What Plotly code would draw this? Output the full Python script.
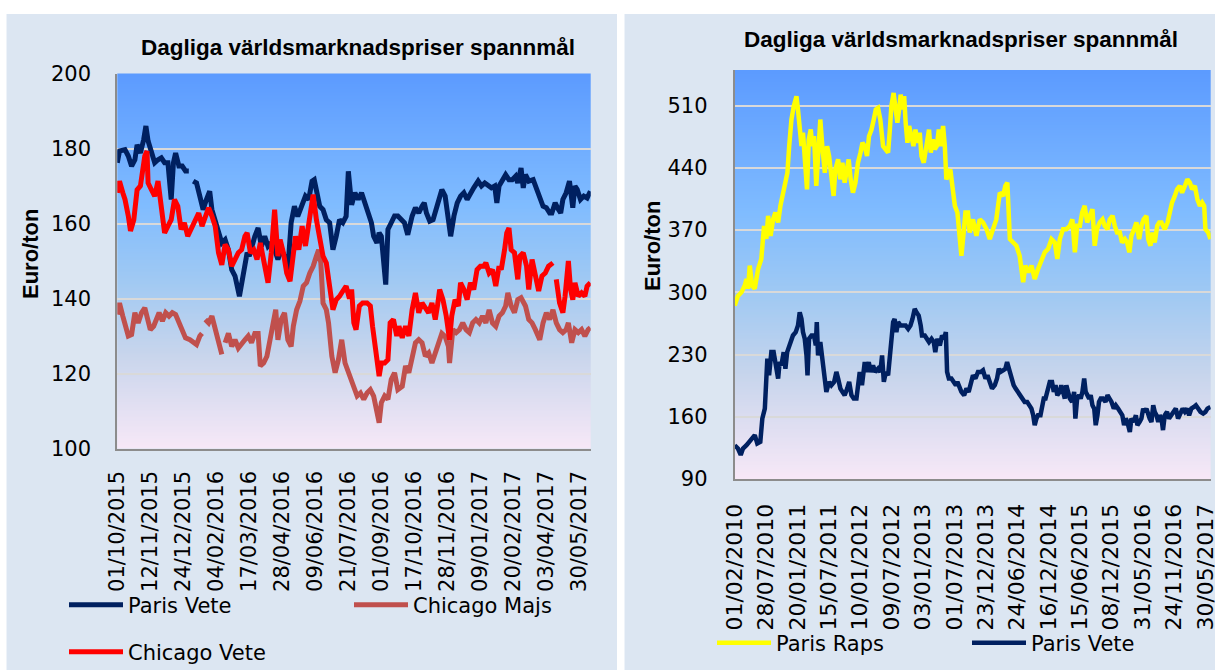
import base64, struct, zlib
import plotly.graph_objects as go

W, H = 1215, 670

# ---------------- data ----------------
left_tick_pos = [0, 30, 60, 90, 120, 150, 180, 210, 240, 270, 300, 330, 360, 390, 420]
left_tick_text = ["01/10/2015", "12/11/2015", "24/12/2015", "04/02/2016", "17/03/2016",
                  "28/04/2016", "09/06/2016", "21/07/2016", "01/09/2016", "17/10/2016",
                  "28/11/2016", "09/01/2017", "20/02/2017", "03/04/2017", "30/05/2017"]
right_tick_pos = [0, 125, 250, 375, 500, 625, 750, 875, 1000, 1125, 1250, 1375, 1500, 1625, 1750, 1875]
right_tick_text = ["01/02/2010", "28/07/2010", "20/01/2011", "15/07/2011", "10/01/2012",
                   "09/07/2012", "03/01/2013", "01/07/2013", "23/12/2013", "24/06/2014",
                   "16/12/2014", "15/06/2015", "08/12/2015", "31/05/2016", "24/11/2016",
                   "30/05/2017"]
left_y_ticks = [100, 120, 140, 160, 180, 200]
right_y_ticks = [90, 160, 230, 300, 370, 440, 510]

# Left chart: trading-day index / Euro per ton
paris_vete_l_x = [0, 2, 7, 10, 13, 16, 18, 21, 24, 26, 28, 31, 34, 37, 40, 43, 46, 49, 51, 53, 56, 59, 62, 65, 66,
                  69, 72, 75, 78, 81, 84, 86, 89, 92, 95, 98, 101, 104, 107, 111, 113, 115, 118, 120, 123, 125,
                  128, 131, 134, 137, 140, 143, 146, 149, 152, 155, 158, 161, 164, 167, 171, 174, 177, 179, 181,
                  184, 187, 190, 193, 196, 199, 202, 205, 208, 210, 213, 216, 219, 222, 225, 228, 231, 233, 236,
                  238, 240, 244, 246, 249, 252, 255, 258, 261, 264, 268, 271, 274, 277, 279, 281, 284, 287, 290,
                  293, 295, 298, 300, 303, 306, 309, 312, 315, 318, 321, 324, 328, 331, 334, 337, 340, 343, 345,
                  347, 350, 353, 356, 359, 362, 364, 367, 369, 371, 374, 378, 381, 384, 387, 390, 393, 395, 398,
                  401, 403, 405, 408, 411, 412, 414, 416, 418, 421, 424, 427, 430]
paris_vete_l_y = [176.2, 179.3, 179.7, 178, 175.3, 177, 181, 178.8, 182.4, 186, 182, 178.8, 176.2, 177, 177.5, 176.2,
                  176.2, 166.4, 176.2, 178.8, 175.3, 175.3, 174, 174, None,
                  171.3, 170.8, 167.3, 163.7, 166.4, 168.6, 163.7, 161, 158.4, 154.8, 155.7, 153, 147.7, 146, 140.6,
                  144.2, 148.6, 152.2, 151.3, 154.8, 156.6, 158.8, 153.9, 156.6, 153.9, 154.8, 153, 150.4, 153,
                  151.3, 147.7, 160.2, 164.6, 161.9, 164.6, 167.3, 166.4, 171.3, 171.7, 169.1, 164.6, 163.7, 161,
                  160.2, 153, 156.6, 161, 160.2, 161.9, 173.9, 165, 168.2, 166.4, 168.2, 165.5, 163.7, 160.2, 156.6,
                  154.8, 157.5, 156.6, 143.7, 158.4, 160.2, 162, 162, 161, 160.2, 157, 162, 164.2, 162.8, 164.6,
                  165.5, 162.8, 160.6, 161, 163.7, 167.3, 169, 167.3, 162, 156.6, 162, 165.5, 167.3, 168.2, 166.4,
                  168.2, 169.5, 171.3, 170, 170.8, 170, 169.5, 170, 165.5, 170, 171.7, 173, 171.7, 171.7, 172.6,
                  170.8, 174.8, 169.5, 173, 171.3, 171.7, 169, 166.4, 164.6, 164.2, 162.8, 162.8, 165.5, 163.7,
                  162.8, 166.4, 168.2, 171.3, 168.2, 164.2, 170, 169.1, 166.4, 167.3, 166.8, 168.6]

chicago_majs_x = [0, 2, 5, 7, 10, 13, 16, 19, 22, 25, 27, 30, 33, 36, 38, 41, 44, 47, 50, 53, 56, 59, 62, 66, 69,
                  72, 75, 77, 78, 80, 83, 86, 89, 92, 95, 96, 98, 101, 104, 107, 110, 113, 116, 119, 122, 125, 128,
                  130, 133, 136, 139, 142, 144, 146, 149, 152, 155, 158, 160, 163, 166, 169, 172, 175, 178, 181,
                  183, 185, 187, 190, 192, 195, 198, 201, 204, 207, 210, 213, 215, 218, 221, 224, 227, 230, 233,
                  236, 238, 240, 243, 246, 249, 252, 255, 259, 262, 265, 268, 271, 274, 277, 280, 283, 286, 289,
                  292, 295, 298, 301, 302, 305, 308, 311, 314, 317, 320, 323, 326, 329, 332, 335, 338, 341, 344,
                  347, 350, 353, 355, 358, 361, 364, 367, 371, 374, 377, 380, 384, 387, 390, 393, 396, 399, 402,
                  405, 408, 410, 413, 416, 419, 422, 425, 428, 430]
chicago_majs_y = [135.7, 138.8, 135.3, 132.6, 130, 130.4, 136.2, 133.5, 136.2, 137.5, 135.3, 131.7, 132.6, 134.4,
                  136.2, 134, 136.2, 135.3, 136.2, 135.7, 133.5, 131.7, 129.5, 129, 128.2, 127.7, 130, 130.7, None,
                  134.4, 133.5, 135.3, 131.7, 128.2, 125.1, None, 128.2, 130.7, 127.2, 129, 126.8, 128.2, 129, 130,
                  128.2, 130.7, 130.7, 122, 122.8, 124.6, 130, 133.5, 137, 129, 134.4, 136.2, 129, 127.2, 132.6,
                  137, 139.3, 143.3, 144.2, 146.8, 148.6, 151.3, 153, 149.5, 138.8, 137, 133.5, 124.6, 120.2, 123.7,
                  129, 122.8, 120.2, 118.4, 116.6, 114, 114.8, 113.1, 114.8, 115.7, 114, 109.5, 106.9, 112.2, 114,
                  113.1, 118.4, 120.2, 115.7, 116.6, 122, 120.2, 124.6, 128.2, 129, 128.2, 124.6, 125.5, 122.8,
                  125.5, 127.2, 130.7, 129.9, 127.2, 122.8, 131.7, 130.9, 131.7, 133.5, 131.7, 130.9, 133.5, 134.4,
                  133.5, 135.3, 133.5, 137, 133.5, 132.6, 135.3, 136.2, 138, 141.5, 138, 136.2, 139.7, 140.2, 138,
                  134.4, 133.5, 131.7, 129, 133.5, 136.2, 134.4, 137, 133.5, 131.7, 130.9, 131.7, 133.5, 128.2,
                  131.7, 130.9, 131.7, 130, 131.7, 132.2]

chicago_vete_x = [0, 2, 5, 7, 10, 12, 15, 18, 21, 23, 25, 27, 28, 31, 34, 37, 40, 43, 46, 49, 52, 55, 58, 61, 64,
                  68, 71, 74, 77, 80, 83, 86, 89, 92, 95, 98, 101, 104, 107, 110, 113, 116, 118, 121, 124, 127, 130,
                  133, 135, 137, 140, 143, 146, 148, 151, 154, 157, 160, 162, 165, 168, 171, 174, 178, 181, 184,
                  187, 190, 193, 196, 199, 202, 205, 208, 211, 213, 215, 217, 220, 223, 227, 230, 232, 235, 238,
                  240, 243, 246, 248, 251, 254, 256, 259, 262, 265, 268, 271, 274, 277, 280, 283, 286, 289, 291,
                  293, 296, 299, 302, 304, 307, 310, 312, 315, 318, 321, 324, 327, 330, 333, 335, 338, 341, 344,
                  347, 349, 352, 354, 356, 358, 361, 364, 366, 369, 372, 374, 377, 380, 383, 386, 389, 392, 396,
                  397, 399, 402, 405, 407, 410, 412, 414, 416, 419, 422, 425, 427, 430]
chicago_vete_y = [168.2, 171.3, 168.2, 166.4, 162, 158, 161, 169, 170, 173.5, 178, 179.3, 170.8, 169, 167.3, 171.3,
                  163.7, 157.5, 159.3, 161, 166.4, 164.6, 158.4, 160.2, 156.6, 159.3, 161, 162.8, 159.3, 162, 164.2,
                  162, 159.3, 152.2, 149, 154.4, 153, 148.6, 150.4, 152.2, 153, 156.6, 157.5, 152.2, 153, 150.4,
                  154.8, 150.4, 147.7, 144.2, 152.2, 163.7, 151.3, 155.7, 152.2, 146.8, 144.6, 151.3, 156.6, 153,
                  159.3, 154, 161, 167.7, 161, 156.6, 151.3, 149.5, 142.4, 137, 139.7, 140.6, 142, 143.3, 140, 142.4,
                  133.5, 131.7, 138, 138.8, 138.8, 138, 132.6, 126.4, 119.3, 122.8, 122.8, 123.7, 133.5, 134.4, 130,
                  132.6, 129.5, 132.6, 130, 137, 141.5, 136.2, 138.8, 137.5, 136.2, 138.8, 134.4, 138, 142.4, 139.7,
                  135.3, 129, 135.3, 139.7, 138, 144.2, 142.4, 139.7, 144.2, 142.4, 147.7, 148.6, 148.6, 149.5,
                  146.8, 147.7, 143.3, 148.6, 147.7, 153, 157.5, 158.8, 153, 152.2, 145.1, 151.3, 152.2, 148.6,
                  142.4, 150.4, 146.8, 142, 146, 146.8, 148.6, 149.5, None, 145.1, 138.8, 136.2, 140.6, 150, 142.4,
                  139.7, 144.2, 140.6, 141.5, 140.6, 143.3, 144.2]

# Right chart: trading-day index / Euro per ton
paris_raps_x = [0, 13, 27, 40, 47, 53, 60, 69, 80, 93, 106, 117, 126, 133, 143, 153, 162, 173, 182, 193, 202, 210,
                217, 226, 235, 246, 252, 259, 266, 272, 279, 288, 295, 303, 309, 316, 325, 332, 341, 349, 359, 368,
                376, 385, 394, 401, 412, 421, 429, 438, 448, 454, 462, 471, 481, 491, 501, 509, 518, 527, 535, 545,
                554, 562, 571, 580, 591, 600, 611, 618, 624, 633, 641, 648, 655, 661, 668, 675, 681, 688, 695, 704,
                712, 720, 728, 737, 744, 753, 761, 768, 774, 781, 789, 797, 805, 813, 821, 830, 837, 843, 850, 859,
                867, 877, 887, 896, 903, 912, 919, 929, 936, 949, 963, 976, 989, 1003, 1016, 1029, 1042, 1056, 1069,
                1078, 1086, 1096, 1109, 1122, 1135, 1149, 1158, 1169, 1182, 1195, 1208, 1222, 1235, 1248, 1262,
                1275, 1285, 1295, 1308, 1321, 1335, 1345, 1355, 1364, 1375, 1384, 1394, 1404, 1414, 1425, 1434,
                1443, 1454, 1465, 1474, 1485, 1494, 1505, 1514, 1523, 1534, 1543, 1554, 1563, 1572, 1580, 1591,
                1600, 1611, 1620, 1629, 1640, 1647, 1656, 1664, 1673, 1683, 1691, 1700, 1713, 1724, 1733, 1742,
                1753, 1762, 1773, 1782, 1793, 1803, 1813, 1822, 1833, 1843, 1853, 1862, 1870, 1875, 1886, 1895]
paris_raps_y = [285, 296, 300, 307.5, 315, 304, 330, 307.5, 304, 326, 337.4, 374.7, 360, 386, 363.5, 382, 389.7,
                378.5, 397.2, 412, 427, 434.5, 464.4, 494.3, 509, 520.5, 505.5, 479.4, 464.4, 479.4, 449.5, 415.8,
                471.9, 483, 464.4, 475.6, 419.6, 464.4, 494.3, 464.4, 434.5, 464.4, 453.2, 430.8, 408.4, 438.2,
                449.5, 427, 445.7, 423.3, 442, 449.5, 427, 412, 423.3, 445.7, 457, 468.1, 464.4, 453.2, 475.6, 483,
                494.3, 505.5, 507.4, 494.3, 464.4, 460.7, 457, 483, 509.2, 524.2, 509.2, 490.6, 505.5, 522.3, 505.5,
                520.5, 490.6, 468.1, 487, 475.6, 464.4, 483, 468.1, 479.4, 453.2, 445.7, 460.7, 479.4, 483, 457,
                472, 460.7, 464.4, 483, 464.4, 487, 464.4, 427, 430.8, 438.2, 419.6, 397.2, 389.7, 359.8, 341,
                367.2, 389.7, 389.7, 367.2, 382, 363.5, 382, 378.5, 371, 359.8, 371, 382, 412, 408.4, 419.6, 423.3,
                359.8, 356, 352.3, 341, 311.2, 330, 322.4, 330, 315, 326, 337.4, 344.9, 348.6, 359.8, 356, 337.4,
                359.8, 371, 371, 374.7, 382, 344.9, 374.7, 374.7, 389.7, 397.2, 378.5, 386, 393.4, 352.3, 371,
                378.5, 382, 374.7, 371, 382, 386, 374.7, 367.2, 367.2, 356, 359.8, 356, 344.9, 363.5, 371, 378.5,
                359.8, 374.7, 382, 386, 359.8, 352.3, 367.2, 356, 374.7, 378.5, 378.5, 371, 378.5, 393.4, 400.9,
                408.4, 415.8, 419.6, 412, 419.6, 427, 423.3, 415.8, 419.6, 404.6, 397.2, 401, 397.2, 371, 367.2,
                359.8]

paris_vete_r_x = [0, 13, 24, 33, 47, 60, 73, 80, 90, 102, 110, 120, 126, 130, 137, 146, 155, 163, 173, 179, 186, 195,
                  202, 209, 217, 223, 232, 243, 252, 259, 266, 272, 279, 286, 290, 296, 306, 316, 323, 327, 332, 341,
                  349, 359, 365, 376, 385, 396, 405, 412, 421, 429, 438, 448, 456, 465, 474, 485, 491, 498, 507, 518,
                  525, 534, 542, 551, 560, 571, 580, 587, 594, 602, 611, 618, 624, 631, 637, 644, 651, 661, 671, 681,
                  691, 700, 708, 717, 724, 733, 741, 746, 757, 766, 774, 784, 793, 799, 807, 817, 826, 834, 841, 846,
                  853, 863, 873, 881, 887, 896, 903, 914, 923, 932, 940, 949, 959, 969, 980, 989, 999, 1007, 1016,
                  1025, 1036, 1045, 1052, 1058, 1069, 1078, 1085, 1092, 1098, 1105, 1111, 1119, 1129, 1138, 1146,
                  1155, 1165, 1173, 1182, 1189, 1195, 1202, 1208, 1218, 1224, 1231, 1238, 1246, 1255, 1264, 1271,
                  1278, 1285, 1295, 1301, 1308, 1315, 1321, 1328, 1335, 1344, 1352, 1357, 1364, 1372, 1378, 1385,
                  1392, 1398, 1405, 1412, 1418, 1425, 1432, 1438, 1445, 1451, 1458, 1467, 1477, 1485, 1493, 1501,
                  1510, 1518, 1527, 1536, 1544, 1551, 1558, 1564, 1574, 1580, 1590, 1598, 1604, 1613, 1620, 1627,
                  1633, 1640, 1647, 1653, 1660, 1667, 1673, 1680, 1687, 1693, 1700, 1706, 1713, 1722, 1730, 1740,
                  1749, 1757, 1766, 1776, 1784, 1793, 1802, 1810, 1819, 1829, 1837, 1846, 1855, 1866, 1875, 1883,
                  1895]
paris_vete_r_y = [128, 124.3, 117, 124.3, 128, 131.8, 135.6, 139.3, 130, 131.8, 158, 169.2, 203, 225.3, 206.6,
                  232.7, 232.7, 217.8, 203, 221.5, 217.8, 232.7, 214, 232.7, 240.2, 244, 251.4, 255.2, 262.6, 277.6,
                  270, 255.2, 247.7, 229, 206.6, 247.7, 251.4, 251.4, 240.2, 266.4, 229, 244, 225.3, 195.5, 188,
                  199.2, 195.5, 199.2, 210.4, 203, 191.7, 188, 184.2, 191.7, 199.2, 184.2, 180.4, 180.4, 195.5, 210.4,
                  195.5, 221.5, 210.4, 221.5, 210.4, 217.8, 210.4, 214, 210.4, 229, 199.2, 210.4, 206.6, 225.3, 247.7,
                  266.4, 270, 255.2, 266.4, 262.6, 262.6, 262.6, 258.9, 262.6, 270, 281.3, 277.6, 273.8, 262.6,
                  251.4, 251.4, 247.7, 244, 247.7, 244, 232.7, 247.7, 240.2, 251.4, 247.7, 255.2, 210.4, 203, 203,
                  199.2, 195.5, 199.2, 191.7, 188, 184.2, 191.7, 188, 195.5, 206.6, 203, 210.4, 210.4, 212.3, 203,
                  206.6, 199.2, 191.7, 195.5, 203, 214, 210.4, 212.3, 214, 221.5, 214, 206.6, 203, 195.5, 191.7, 188,
                  184.2, 180.4, 176.7, 176.7, 172.9, 169.2, 161.7, 150.5, 158, 161.7, 161.7, 172.9, 180.4, 180.4,
                  191.7, 199.2, 199.2, 188, 195.5, 184.2, 188, 195.5, 188, 180.4, 195.5, 188, 180.4, 176.7, 188, 158,
                  180.4, 184.2, 180.4, 188, 203, 188, 184.2, 180.4, 184.2, 172.9, 169.2, 150.5, 161.7, 176.7, 180.4,
                  180.4, 176.7, 184.2, 180.4, 176.7, 169.2, 172.9, 169.2, 165.5, 161.7, 150.5, 158, 154.2, 143, 158,
                  154.2, 161.7, 150.5, 154.2, 158, 169.2, 165.5, 169.2, 161.7, 158, 154.2, 172.9, 165.5, 161.7, 154.2,
                  161.7, 158, 145, 161.7, 165.5, 158, 161.7, 165.5, 169.2, 158, 165.5, 169.2, 165.5, 169.2, 161.7,
                  169.2, 171, 172.9, 169.2, 165.5, 163.6, 165.5, 169.2, 171]

# ---------------- styling helpers ----------------
PANEL = "#dce6f2"
FONT = "Liberation Sans"
TICKFONT = "DejaVu Sans"


def gradient_png(stops, n=256, w=4):
    raw = b""
    for i in range(n):
        t = i / (n - 1)
        col = stops[-1][1]
        for k in range(len(stops) - 1):
            t0, c0 = stops[k]
            t1, c1 = stops[k + 1]
            if t0 <= t <= t1:
                f = (t - t0) / (t1 - t0)
                col = [round(c0[j] + (c1[j] - c0[j]) * f) for j in range(3)]
                break
        raw += b"\x00" + bytes(col) * w

    def chunk(tag, data):
        return (struct.pack(">I", len(data)) + tag + data +
                struct.pack(">I", zlib.crc32(tag + data) & 0xffffffff))

    png = (b"\x89PNG\r\n\x1a\n" +
           chunk(b"IHDR", struct.pack(">IIBBBBB", w, n, 8, 2, 0, 0, 0)) +
           chunk(b"IDAT", zlib.compress(raw, 9)) + chunk(b"IEND", b""))
    return "data:image/png;base64," + base64.b64encode(png).decode()


grad = gradient_png([(0.0, (92, 155, 255)), (0.35, (128, 188, 255)), (0.55, (160, 201, 243)),
                     (0.75, (200, 213, 236)), (1.0, (247, 232, 247))])


def px_x(p):
    return p / W


def px_y(p):
    return 1 - p / H


L_X0, L_X1, L_Y0, L_Y1 = 117.3, 590.7, 73.5, 448.5
R_X0, R_X1, R_Y0, R_Y1 = 734.7, 1210.7, 70.0, 479.0

fig = go.Figure()

fig.add_trace(go.Scatter(x=paris_vete_l_x, y=paris_vete_l_y, name="Paris Vete", mode="lines",
                         line=dict(color="#002060", width=5), xaxis="x", yaxis="y", legend="legend"))
fig.add_trace(go.Scatter(x=chicago_majs_x, y=chicago_majs_y, name="Chicago Majs", mode="lines",
                         line=dict(color="#c0504d", width=5), xaxis="x", yaxis="y", legend="legend2"))
fig.add_trace(go.Scatter(x=chicago_vete_x, y=chicago_vete_y, name="Chicago Vete", mode="lines",
                         line=dict(color="#ff0000", width=5), xaxis="x", yaxis="y", legend="legend3"))
fig.add_trace(go.Scatter(x=paris_raps_x, y=paris_raps_y, name="Paris Raps", mode="lines",
                         line=dict(color="#ffff00", width=4.5), xaxis="x2", yaxis="y2", legend="legend4"))
fig.add_trace(go.Scatter(x=paris_vete_r_x, y=paris_vete_r_y, name="Paris Vete", mode="lines",
                         line=dict(color="#002060", width=4.5), xaxis="x2", yaxis="y2", legend="legend5"))

axis_common = dict(showline=True, linecolor="#8c8c8c", linewidth=2, zeroline=False,
                   fixedrange=True, automargin=False, ticklabeloverflow="allow")

legend_common = dict(orientation="h", bgcolor="rgba(0,0,0,0)", borderwidth=0, itemwidth=54,
                     font=dict(family=TICKFONT, size=21, color="#000000"),
                     xanchor="left", yanchor="middle", itemclick=False, itemdoubleclick=False)

fig.update_layout(
    width=W, height=H, autosize=False,
    margin=dict(l=0, r=0, t=0, b=0, pad=0, autoexpand=False),
    paper_bgcolor=PANEL, plot_bgcolor="rgba(0,0,0,0)",
    font=dict(family=FONT, color="#000000"),
    showlegend=True,
    xaxis=dict(domain=[px_x(L_X0), px_x(L_X1)], range=[0, 430.3], tickmode="array",
               tickvals=left_tick_pos, ticktext=left_tick_text, tickangle=-90, showgrid=False,
               ticks="", ticklabelstandoff=12, anchor="y",
               tickfont=dict(family=TICKFONT, size=21, color="#000000"), **axis_common),
    yaxis=dict(domain=[px_y(L_Y1), px_y(L_Y0)], range=[100, 200], tickmode="array",
               tickvals=left_y_ticks, showgrid=True, gridcolor="#d9d9d9", gridwidth=2,
               ticks="", ticklabelstandoff=20, anchor="x",
               tickfont=dict(family=TICKFONT, size=21, color="#000000"), **axis_common),
    xaxis2=dict(domain=[px_x(R_X0), px_x(R_X1)], range=[0, 1896], tickmode="array",
                tickvals=right_tick_pos, ticktext=right_tick_text, tickangle=-90, showgrid=False,
                ticks="", ticklabelstandoff=14, anchor="y2",
                tickfont=dict(family=TICKFONT, size=22, color="#000000"), **axis_common),
    yaxis2=dict(domain=[px_y(R_Y1), px_y(R_Y0)], range=[90, 550], tickmode="array",
                tickvals=right_y_ticks, showgrid=True, gridcolor="#d9d9d9", gridwidth=2,
                ticks="", ticklabelstandoff=21, anchor="x2",
                tickfont=dict(family=TICKFONT, size=21, color="#000000"), **axis_common),
    legend=dict(x=px_x(64), y=px_y(605), **legend_common),
    legend2=dict(x=px_x(349), y=px_y(605), **legend_common),
    legend3=dict(x=px_x(64), y=px_y(652), **legend_common),
    legend4=dict(x=px_x(712), y=px_y(643), **legend_common),
    legend5=dict(x=px_x(967), y=px_y(643), **legend_common),
    images=[
        dict(source=grad, xref="paper", yref="paper", x=px_x(L_X0), y=px_y(L_Y0),
             sizex=(L_X1 - L_X0) / W, sizey=(L_Y1 - L_Y0) / H, sizing="stretch",
             xanchor="left", yanchor="top", layer="below"),
        dict(source=grad, xref="paper", yref="paper", x=px_x(R_X0), y=px_y(R_Y0),
             sizex=(R_X1 - R_X0) / W, sizey=(R_Y1 - R_Y0) / H, sizing="stretch",
             xanchor="left", yanchor="top", layer="below"),
    ],
    shapes=[
        dict(type="rect", xref="paper", yref="paper", x0=0, x1=1, y0=px_y(14), y1=1,
             fillcolor="#ffffff", line=dict(width=0), layer="below"),
        dict(type="rect", xref="paper", yref="paper", x0=0, x1=px_x(6.5), y0=0, y1=1,
             fillcolor="#ffffff", line=dict(width=0), layer="below"),
        dict(type="rect", xref="paper", yref="paper", x0=px_x(617), x1=px_x(624.5), y0=0, y1=1,
             fillcolor="#ffffff", line=dict(width=0), layer="below"),
    ],
    annotations=[
        dict(text="<b>Dagliga världsmarknadspriser spannmål</b>", xref="paper", yref="paper",
             x=px_x(358), y=px_y(48), xanchor="center", yanchor="middle", showarrow=False,
             font=dict(family=FONT, size=22.5, color="#000000")),
        dict(text="<b>Dagliga världsmarknadspriser spannmål</b>", xref="paper", yref="paper",
             x=px_x(961), y=px_y(40), xanchor="center", yanchor="middle", showarrow=False,
             font=dict(family=FONT, size=22.5, color="#000000")),
        dict(text="<b>Euro/ton</b>", xref="paper", yref="paper", x=px_x(30), y=px_y(254),
             xanchor="center", yanchor="middle", showarrow=False, textangle=-90,
             font=dict(family=FONT, size=22, color="#000000")),
        dict(text="<b>Euro/ton</b>", xref="paper", yref="paper", x=px_x(652), y=px_y(246),
             xanchor="center", yanchor="middle", showarrow=False, textangle=-90,
             font=dict(family=FONT, size=22, color="#000000")),
    ],
)

fig.write_html("out.html", config={"displayModeBar": False},
               post_script="document.body.style.margin='0';")
